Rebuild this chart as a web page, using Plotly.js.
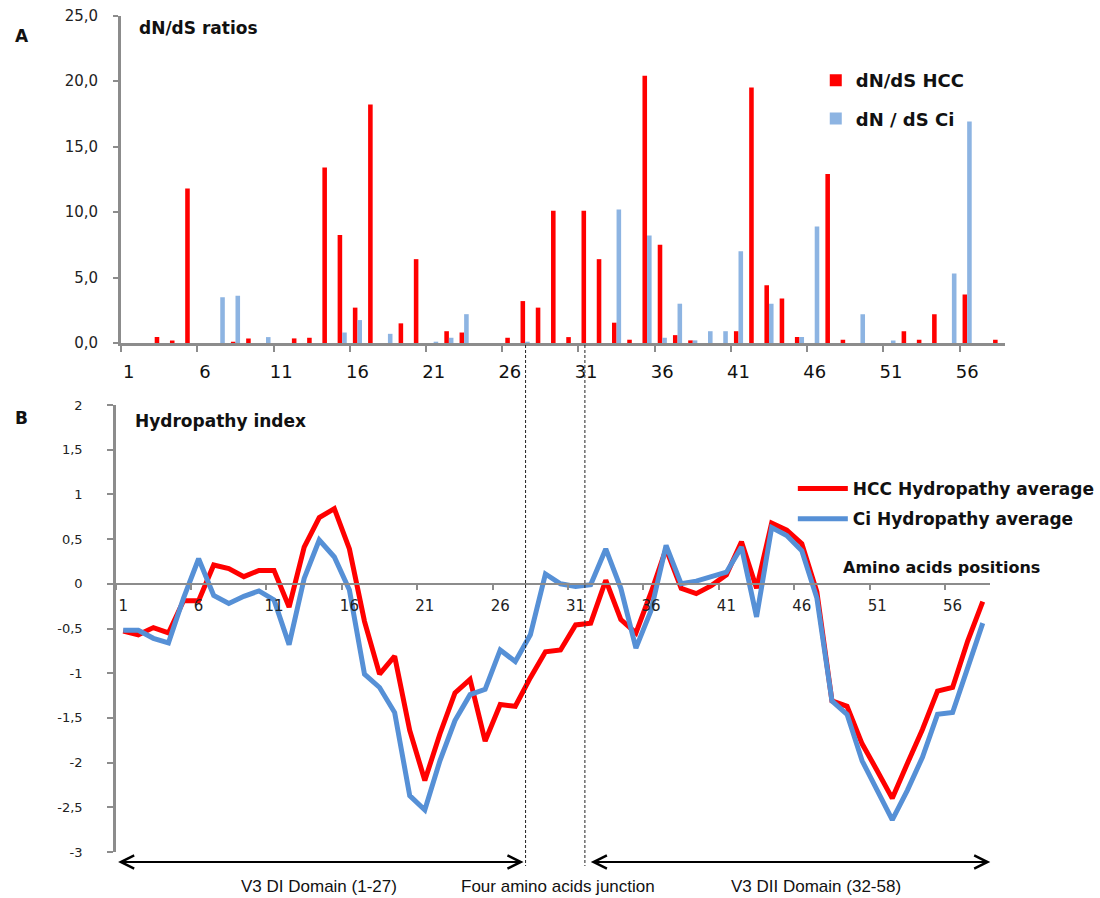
<!DOCTYPE html>
<html>
<head>
<meta charset="utf-8">
<script src="https://cdn.plot.ly/plotly-3.0.1.min.js"></script>
<style>html,body{margin:0;padding:0;background:#fff;}#chart{width:1100px;height:898px;}</style>
</head>
<body>
<div id="chart"></div>
<script>
// ---- DATA ----
const positions = ["1","2","3","4","5","6","7","8","9","10","11","12","13","14","15","16","17","18","19","20",
  "21","22","23","24","25","26","27","28","29","30","31","32","33","34","35","36","37","38","39","40",
  "41","42","43","44","45","46","47","48","49","50","51","52","53","54","55","56","57","58"];

const dnds_HCC = [0,0,0.45,0.2,11.8,0,0,0.1,0.35,0,
  0,0.35,0.4,13.4,8.25,2.7,18.2,0,1.5,6.4,
  0,0.9,0.8,0,0,0.4,3.2,2.7,10.1,0.45,
  10.1,6.4,1.55,0.25,20.4,7.5,0.6,0.2,0,0,
  0.9,19.5,4.4,3.4,0.45,0,12.9,0.25,0,0,
  0,0.9,0.25,2.2,0,3.7,0,0.25];

const dnds_Ci = [0,0,0,0,0,0,3.5,3.6,0,0.45,
  0,0,0,0,0.8,1.75,0,0.7,0,0,
  0.1,0.4,2.2,0,0,0,0.1,0,0,0,
  0,0,10.2,0,8.2,0.4,3.0,0.2,0.9,0.9,
  7.0,0,3.0,0,0.45,8.9,0,0,2.2,0,
  0.2,0,0,0,5.3,16.9,0,0];

const hydro_HCC = [-0.53,-0.57,-0.49,-0.55,-0.19,-0.19,0.21,0.17,0.08,0.15,
  0.15,-0.26,0.41,0.74,0.84,0.39,-0.42,-1.01,-0.81,-1.64,
  -2.2,-1.68,-1.22,-1.07,-1.76,-1.35,-1.37,-1.05,-0.76,-0.74,
  -0.46,-0.44,0.04,-0.40,-0.55,-0.1,0.39,-0.05,-0.11,-0.02,
  0.1,0.47,-0.05,0.68,0.6,0.45,-0.09,-1.31,-1.37,-1.79,
  -2.09,-2.40,-2.01,-1.63,-1.2,-1.16,-0.64,-0.2];

const hydro_Ci = [-0.52,-0.52,-0.61,-0.66,-0.16,0.28,-0.13,-0.22,-0.14,-0.08,
  -0.18,-0.68,0.06,0.49,0.30,-0.07,-1.01,-1.16,-1.44,-2.37,
  -2.53,-1.98,-1.53,-1.24,-1.18,-0.74,-0.87,-0.57,0.11,0.0,
  -0.03,-0.01,0.39,-0.05,-0.72,-0.3,0.43,0.0,0.03,0.08,
  0.13,0.41,-0.37,0.63,0.54,0.37,-0.16,-1.31,-1.46,-1.98,
  -2.31,-2.64,-2.31,-1.94,-1.46,-1.44,-0.94,-0.44];

const ratioTickVals = [0,5,10,15,20,25];
const ratioTickText = ["0,0","5,0","10,0","15,0","20,0","25,0"];
const hydroTickVals = [2,1.5,1,0.5,0,-0.5,-1,-1.5,-2,-2.5,-3];
const hydroTickText = ["2","1,5","1","0,5","0","-0,5","-1","-1,5","-2","-2,5","-3"];

// ---- LAYOUT HELPERS ----
const W = 1100, H = 898;
const px = v => v / W;
const py = v => 1 - v / H;

const gray = '#8c8c8c';
const tickFontFam = 'DejaVu Sans, Verdana, sans-serif';
const bottomFam = 'Liberation Sans, Arial, sans-serif';

const y2dom = [py(852), py(405)];
const y2range = [-3, 2];
const zeroPos = y2dom[0] + (0 - y2range[0]) / (y2range[1] - y2range[0]) * (y2dom[1] - y2dom[0]);

const traces = [
  {type:'bar', x:positions, y:dnds_HCC, xaxis:'x', yaxis:'y', name:'dN/dS HCC',
   marker:{color:'#ff0000'}, legend:'legend', legendgroup:'a', hoverinfo:'skip'},
  {type:'bar', x:positions, y:dnds_Ci, xaxis:'x', yaxis:'y', name:'dN / dS Ci',
   marker:{color:'#8db4e2'}, legend:'legend', legendgroup:'b', hoverinfo:'skip'},
  {type:'scatter', mode:'lines', x:positions, y:hydro_HCC, xaxis:'x2', yaxis:'y2',
   name:'HCC Hydropathy average', line:{color:'#ff0000', width:5}, legend:'legend2', legendgroup:'c', hoverinfo:'skip'},
  {type:'scatter', mode:'lines', x:positions, y:hydro_Ci, xaxis:'x2', yaxis:'y2',
   name:'Ci Hydropathy average', line:{color:'#5690d6', width:5}, legend:'legend2', legendgroup:'d', hoverinfo:'skip'}
];

function txt(x, y, text, size, opts) {
  return Object.assign({xref:'paper', yref:'paper', x:px(x), y:py(y), text:text, showarrow:false,
    xanchor:'center', yanchor:'middle',
    font:{family:tickFontFam, size:size, color:'#111', weight:'bold'}}, opts || {});
}

const layout = {
  width: W, height: H,
  margin: {l:0, r:0, t:0, b:0},
  paper_bgcolor: '#ffffff', plot_bgcolor: 'rgba(0,0,0,0)',
  barmode: 'group', bargap: 0.4, bargroupgap: 0,
  showlegend: true,
  xaxis: {
    type:'category', domain:[px(121.5), px(1008)], range:[-0.5, 57.5], anchor:'y',
    showline:true, linecolor:gray, linewidth:3, zeroline:false, showgrid:false,
    ticks:'outside', ticklen:6, tickwidth:2, tickcolor:gray, tickson:'boundaries',
    tickmode:'linear', tick0:0, dtick:5, tickangle:0, ticklabelstandoff:10,
    tickfont:{family:tickFontFam, size:18, color:'#111'}, fixedrange:true
  },
  yaxis: {
    domain:[py(343), py(15.5)], range:[0,25], anchor:'x',
    showline:true, linecolor:gray, linewidth:3, zeroline:false, showgrid:false,
    ticks:'outside', ticklen:5, tickwidth:2, tickcolor:gray,
    tickmode:'array', tickvals:ratioTickVals, ticktext:ratioTickText, ticklabelstandoff:12,
    tickfont:{family:tickFontFam, size:15, color:'#222'}, fixedrange:true
  },
  xaxis2: {
    type:'category', domain:[px(116), px(993)], range:[-0.5, 57.5], anchor:'free', position: zeroPos,
    showline:true, linecolor:gray, linewidth:2.5, zeroline:false, showgrid:false,
    ticks:'outside', ticklen:5, tickwidth:2, tickcolor:gray, tickson:'boundaries',
    tickmode:'linear', tick0:0, dtick:5, tickangle:0, ticklabelstandoff:8,
    tickfont:{family:tickFontFam, size:15, color:'#222'}, fixedrange:true
  },
  yaxis2: {
    domain:y2dom, range:y2range, anchor:'x2',
    showline:true, linecolor:gray, linewidth:2.5, zeroline:false, showgrid:false,
    ticks:'outside', ticklen:6, tickwidth:2, tickcolor:gray,
    tickmode:'array', tickvals:hydroTickVals, ticktext:hydroTickText, ticklabelstandoff:22,
    tickfont:{family:tickFontFam, size:13, color:'#222'}, fixedrange:true
  },
  legend: {
    x:px(818), y:py(62), xanchor:'left', yanchor:'top', bgcolor:'rgba(0,0,0,0)',
    traceorder:'grouped', tracegroupgap:12,
    font:{family:tickFontFam, size:18, color:'#111', weight:'bold'}
  },
  legend2: {
    x:px(795), y:py(471), xanchor:'left', yanchor:'top', bgcolor:'rgba(0,0,0,0)',
    traceorder:'grouped', tracegroupgap:5, itemwidth:50,
    font:{family:tickFontFam, size:17, color:'#111', weight:'bold'}
  },
  shapes: [
    {type:'line', xref:'paper', yref:'paper', x0:px(527), x1:px(527), y0:py(345), y1:py(866),
     line:{color:'#222', width:1, dash:'3px,2px'}},
    {type:'line', xref:'paper', yref:'paper', x0:px(586.5), x1:px(586.5), y0:py(345), y1:py(866),
     line:{color:'#222', width:1, dash:'3px,2px'}}
  ],
  annotations: [
    txt(22, 36, 'A', 17),
    txt(22, 418, 'B', 17),
    txt(137, 28, 'dN/dS ratios', 17, {xanchor:'left'}),
    txt(133, 421, 'Hydropathy index', 17, {xanchor:'left'}),
    txt(843, 567, 'Amino acids positions', 16, {xanchor:'left'}),
    {xref:'paper', yref:'paper', x:px(525), y:py(862), ax:-407, ay:0, axref:'pixel', ayref:'pixel',
     text:'', showarrow:true, arrowside:'end+start', arrowhead:5, arrowsize:1.3, arrowwidth:2, arrowcolor:'#000'},
    {xref:'paper', yref:'paper', x:px(993), y:py(862), ax:-401, ay:0, axref:'pixel', ayref:'pixel',
     text:'', showarrow:true, arrowside:'end+start', arrowhead:5, arrowsize:1.3, arrowwidth:2, arrowcolor:'#000'},
    txt(320, 886, 'V3 DI Domain (1-27)', 17, {font:{family:bottomFam, size:17, color:'#111'}}),
    txt(560, 886, 'Four amino acids junction', 17, {font:{family:bottomFam, size:17, color:'#111'}}),
    txt(818, 886, 'V3 DII Domain (32-58)', 17, {font:{family:bottomFam, size:17, color:'#111'}})
  ]
};

Plotly.newPlot('chart', traces, layout, {staticPlot:true, displayModeBar:false});
</script>
</body>
</html>
